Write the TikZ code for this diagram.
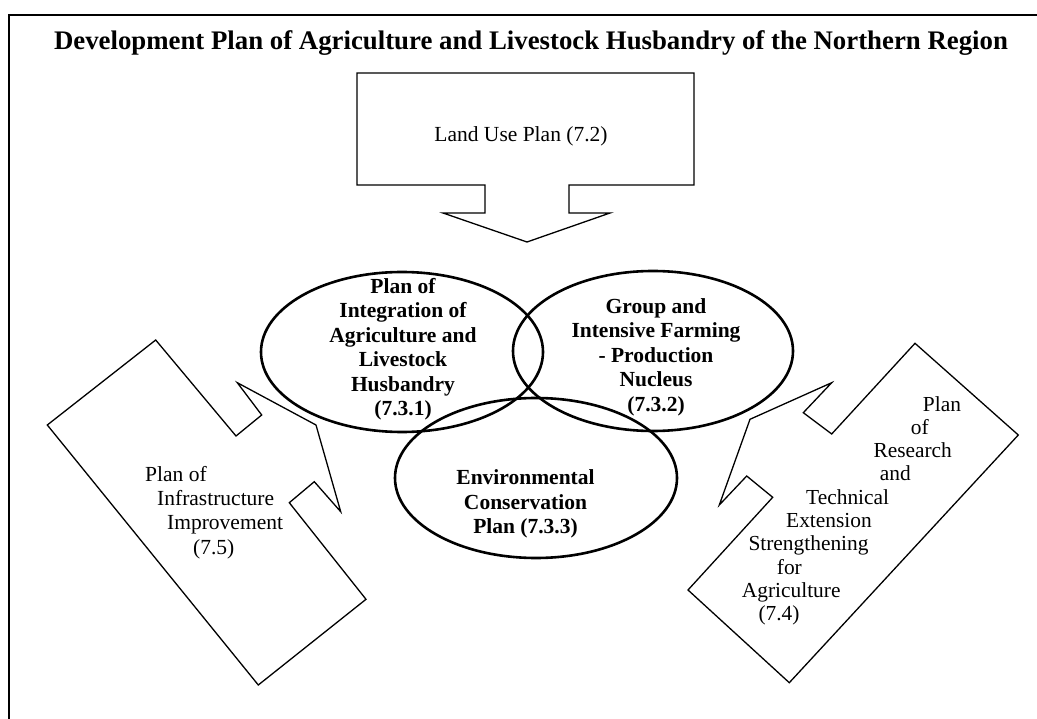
\documentclass[tikz,border=0pt]{standalone}
\usepackage{fontspec}
\setmainfont{Liberation Serif}
\usetikzlibrary{positioning}

\begin{document}
\begin{tikzpicture}[
    x=1pt, y=-1pt,
    every node/.style={inner sep=0pt, align=center, font=\fontsize{21.5}{24}\selectfont},
    callout/.style={draw, line width=1.3pt, line join=miter},
    venn/.style={draw, line width=2.6pt},
    venntext/.style={font=\fontsize{21.5}{24.5}\selectfont\bfseries}
]
    \useasboundingbox (0,0) rectangle (1037,719);

    % Frame
    \draw[line width=1.8pt] (1037,15) -- (9,15) -- (9,719);

    % Title
    \node[anchor=base, font=\fontsize{26.8}{30}\selectfont\bfseries] (title) at (531,50)
        {Development Plan of Agriculture and Livestock Husbandry of the Northern Region};

    % Callouts
    \draw[callout] (357,73) -- (694,73) -- (694,185) -- (569,185) -- (569,213) -- (610,213)
        -- (527,242) -- (443,213) -- (485,213) -- (485,185) -- (357,185) -- cycle;
    \draw[callout] (155.7,340) -- (236,436) -- (261.7,415) -- (237.3,382.7) -- (316,425)
        -- (340.7,511.7) -- (314.3,481.7) -- (289.3,502.7) -- (366,599.3) -- (258.3,685)
        -- (47.3,425) -- cycle;
    \draw[callout] (915,343.3) -- (1018.3,435) -- (789.3,682.7) -- (688,590) -- (772.7,497.3)
        -- (746.7,476) -- (719.3,505) -- (750,419.3) -- (831.7,382.7) -- (803.3,412.7)
        -- (831.7,434) -- cycle;

    % Ellipses
    \draw[venn] (402,352) ellipse [x radius=141, y radius=80];
    \draw[venn] (653,351) ellipse [x radius=140, y radius=80];
    \draw[venn] (536,478) ellipse [x radius=141, y radius=80];

    % Labels
    \node[anchor=base] (landuse) at (521,141.7) {Land Use Plan (7.2)};
    \node[anchor=north west, align=left, font=\fontsize{21.5}{24.3}\selectfont] (infra) at (145,466)
        {Plan of\\\hspace*{12pt}Infrastructure\\\hspace*{22pt}Improvement\\\hspace*{48pt}(7.5)};
    \node[anchor=north west, align=left, font=\fontsize{21.4}{23.3}\selectfont] (research) at (741.7,396)
        {\hspace*{181pt}Plan\\\hspace*{169pt}of\\\hspace*{131.6pt}Research\\\hspace*{138pt}and\\
         \hspace*{64.3pt}Technical\\\hspace*{44.3pt}Extension\\\hspace*{6.6pt}Strengthening\\
         \hspace*{35pt}for\\Agriculture\\\hspace*{16.6pt}(7.4)};
    \node[venntext] (integ) at (403,349)
        {Plan of\\Integration of\\Agriculture and\\Livestock\\Husbandry\\(7.3.1)};
    \node[venntext] (group) at (656,357)
        {Group and\\Intensive Farming\\- Production\\Nucleus\\(7.3.2)};
    \node[venntext] (env) at (525.5,504)
        {Environmental\\Conservation\\Plan (7.3.3)};
\end{tikzpicture}
\end{document}
